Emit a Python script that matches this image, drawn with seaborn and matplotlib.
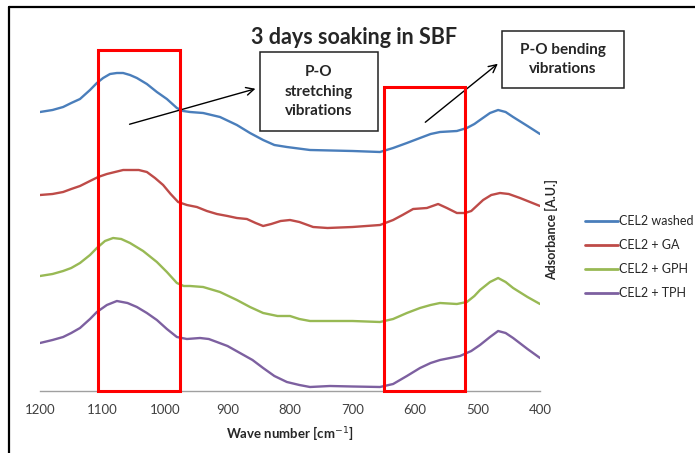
import numpy as np
import pandas as pd
import matplotlib
matplotlib.use("Agg")
import matplotlib.pyplot as plt
from matplotlib.patches import Rectangle
from matplotlib.lines import Line2D
import seaborn as sns

# ── DATA (wave number in cm-1, absorbance in A.U.) ──
wn_washed = [1200, 1180, 1163, 1150, 1136, 1120, 1109, 1099, 1088, 1077, 1067, 1056, 1045, 1029,
             1013, 997, 981, 971, 960, 939, 912, 885, 864, 843, 825, 805, 768, 700, 656, 635,
             613, 592, 575, 560, 533, 517, 505, 496, 480, 467, 455, 443, 420, 400]
ab_washed = [2.79, 2.81, 2.84, 2.88, 2.92, 3.01, 3.08, 3.13, 3.17, 3.18, 3.18, 3.16, 3.13, 3.07,
             2.99, 2.92, 2.83, 2.80, 2.79, 2.78, 2.74, 2.66, 2.58, 2.51, 2.46, 2.44, 2.41, 2.40,
             2.39, 2.43, 2.48, 2.53, 2.57, 2.59, 2.60, 2.63, 2.67, 2.71, 2.78, 2.81, 2.79, 2.74,
             2.65, 2.57]

wn_ga = [1200, 1180, 1163, 1150, 1136, 1120, 1107, 1093, 1080, 1067, 1056, 1042, 1029, 1016,
         1003, 991, 979, 965, 949, 933, 917, 900, 885, 869, 855, 843, 830, 815, 800, 785, 763,
         740, 700, 656, 635, 620, 603, 581, 563, 549, 533, 520, 510, 491, 478, 464, 450, 432, 400]
ab_ga = [1.96, 1.97, 1.99, 2.02, 2.05, 2.10, 2.14, 2.17, 2.19, 2.21, 2.21, 2.21, 2.19, 2.13,
         2.06, 1.97, 1.89, 1.86, 1.84, 1.80, 1.77, 1.75, 1.73, 1.72, 1.68, 1.65, 1.67, 1.70,
         1.71, 1.69, 1.64, 1.63, 1.64, 1.66, 1.71, 1.76, 1.82, 1.83, 1.87, 1.83, 1.78, 1.78,
         1.80, 1.91, 1.96, 1.98, 1.97, 1.93, 1.85]

wn_gph = [1200, 1180, 1163, 1150, 1136, 1120, 1109, 1096, 1083, 1070, 1056, 1035, 1013, 997,
          981, 970, 960, 939, 912, 885, 864, 843, 820, 800, 785, 768, 700, 656, 635, 613, 592,
          575, 560, 533, 517, 505, 496, 480, 467, 455, 443, 420, 400]
ab_gph = [1.15, 1.17, 1.20, 1.23, 1.28, 1.36, 1.43, 1.50, 1.53, 1.52, 1.48, 1.40, 1.29, 1.19,
          1.08, 1.05, 1.05, 1.04, 0.99, 0.91, 0.84, 0.78, 0.75, 0.75, 0.72, 0.70, 0.70, 0.69,
          0.72, 0.78, 0.83, 0.86, 0.88, 0.87, 0.89, 0.95, 1.01, 1.09, 1.13, 1.09, 1.03, 0.94, 0.87]

wn_tph = [1200, 1180, 1163, 1150, 1136, 1120, 1109, 1093, 1077, 1060, 1045, 1029, 1013, 997,
          981, 965, 944, 930, 917, 900, 880, 860, 843, 825, 805, 785, 768, 736, 700, 656, 635,
          613, 592, 575, 560, 528, 510, 496, 480, 467, 455, 443, 420, 400]
ab_tph = [0.48, 0.51, 0.54, 0.58, 0.63, 0.72, 0.79, 0.86, 0.90, 0.88, 0.84, 0.78, 0.71, 0.62,
          0.54, 0.52, 0.53, 0.52, 0.49, 0.45, 0.38, 0.31, 0.23, 0.15, 0.09, 0.06, 0.04, 0.05,
          0.045, 0.04, 0.07, 0.15, 0.23, 0.28, 0.31, 0.35, 0.40, 0.46, 0.54, 0.60, 0.58, 0.53,
          0.42, 0.33]

series = {
    "CEL2 washed": (wn_washed, ab_washed),
    "CEL2 + GA": (wn_ga, ab_ga),
    "CEL2 + GPH": (wn_gph, ab_gph),
    "CEL2 + TPH": (wn_tph, ab_tph),
}
colors = ["#4A7EBB", "#BE4B48", "#98B954", "#7D60A0"]

# highlighted P-O bands (cm-1)
band_stretch = (1107, 976)
band_bend = (650, 520)

# ── SETUP ────────────────────────────────────────────────────
sns.set_theme(style="white")
plt.rcParams["font.family"] = ["Lato", "DejaVu Sans"]

fig = plt.figure(figsize=(6.95, 4.53), dpi=100)
W, H = 695, 453
ax = fig.add_axes([40 / W, (H - 391) / H, 500 / W, (391 - 20) / H])

rows = []
for name, (wn, ab) in series.items():
    rows += [{"wave": w, "abs": a, "sample": name} for w, a in zip(wn, ab)]
df = pd.DataFrame(rows)

sns.lineplot(data=df, x="wave", y="abs", hue="sample", palette=colors,
             linewidth=1.7, ax=ax, legend=False, estimator=None)

ax.set_xlim(1200, 400)
ax.set_ylim(0, 3.71)
ax.set_xticks(np.arange(1200, 399, -100))
ax.set_yticks([])
ax.tick_params(axis="x", length=0, pad=9, labelsize=9.5, colors="#404040")
for s in ["top", "right", "left"]:
    ax.spines[s].set_visible(False)
ax.spines["bottom"].set_color("#a0a0a0")
ax.spines["bottom"].set_linewidth(1.0)
ax.set_xlabel("Wave number [cm$^{-1}$]", fontsize=9.5, fontweight="bold", labelpad=6)
ax.set_ylabel("")

# red band boxes
ax.add_patch(Rectangle((band_stretch[0], 0), band_stretch[1] - band_stretch[0], 3.41,
                       fill=False, edgecolor="#FF0000", linewidth=2.2, clip_on=False, zorder=5))
ax.add_patch(Rectangle((band_bend[0], 0), band_bend[1] - band_bend[0], 3.04,
                       fill=False, edgecolor="#FF0000", linewidth=2.2, clip_on=False, zorder=5))

# callout boxes
ax.add_patch(Rectangle((848, 2.60), 659 - 848, 0.79, fill=True, facecolor="white",
                       edgecolor="#222222", linewidth=1.1, clip_on=False, zorder=6))
ax.text(753.5, 2.995, "P-O\nstretching\nvibrations", ha="center", va="center",
        fontsize=11, fontweight="bold", linespacing=1.5, zorder=7)
ax.add_patch(Rectangle((461, 3.03), 265 - 461, 0.57, fill=True, facecolor="white",
                       edgecolor="#222222", linewidth=1.1, clip_on=False, zorder=6))
ax.text(363, 3.315, "P-O bending\nvibrations", ha="center", va="center",
        fontsize=11, fontweight="bold", linespacing=1.5, zorder=7)

arrow = dict(arrowstyle="->", color="black", lw=1.0, mutation_scale=14)
ax.annotate("", xy=(851, 3.03), xytext=(1061, 2.66), arrowprops=arrow, annotation_clip=False)
ax.annotate("", xy=(464, 3.29), xytext=(587, 2.67), arrowprops=arrow, annotation_clip=False)

# title and y label
fig.text(354 / W, 1 - 37 / H, "3 days soaking in SBF", ha="center", va="center",
         fontsize=15.5, fontweight="bold")
fig.text(552 / W, 1 - 230 / H, "Adsorbance [A.U.]", ha="center", va="center",
         rotation=90, fontsize=9, fontweight="bold")

# legend
handles = [Line2D([], [], color=c, linewidth=2.0) for c in colors]
fig.legend(handles, list(series.keys()), loc="upper left",
           bbox_to_anchor=(574 / W, 1 - 204 / H), frameon=False, fontsize=9,
           handlelength=2.6, handletextpad=0.1, labelspacing=0.95)

# outer frame (left and top edges)
fig.add_artist(Line2D([9 / W, 9 / W], [0, 1 - 7 / H], color="black", linewidth=1.6))
fig.add_artist(Line2D([9 / W, 1], [1 - 7 / H, 1 - 7 / H], color="black", linewidth=1.6))

plt.savefig("out.png", dpi=100)
